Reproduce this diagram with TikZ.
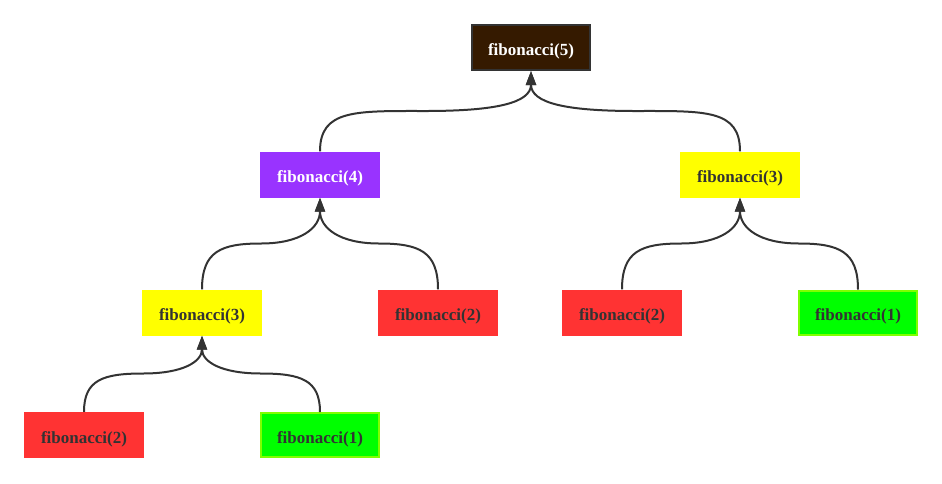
\documentclass[tikz,border=0pt]{standalone}
\usepackage{fontspec}
\setmainfont{Liberation Serif}
\usetikzlibrary{arrows.meta}
\definecolor{brownfill}{HTML}{351A00}
\definecolor{purplefill}{HTML}{9933FF}
\definecolor{redfill}{HTML}{FF3333}
\definecolor{yellowfill}{HTML}{FFFF00}
\definecolor{greenfill}{HTML}{00FF00}
\definecolor{greenline}{HTML}{7FFF00}
\definecolor{edgecol}{HTML}{333333}
\definecolor{txt}{HTML}{333333}
\tikzset{
  fib/.style={rectangle, minimum width=120pt, minimum height=46pt, inner sep=0pt,
    text height=16pt, text depth=0pt,
    font=\fontsize{17}{20}\selectfont\bfseries, text=txt},
  rootbox/.style={fib, fill=brownfill, draw=edgecol, line width=2pt, minimum width=118pt, minimum height=45pt, text=white},
  purplebox/.style={fib, fill=purplefill, text=white},
  redbox/.style={fib, fill=redfill},
  yellowbox/.style={fib, fill=yellowfill},
  greenbox/.style={fib, fill=greenfill, draw=greenline, line width=2pt, minimum width=118pt, minimum height=44pt},
  edge/.style={draw=edgecol, line width=2pt, -{Triangle[length=14pt,width=10pt]}},
}
\begin{document}
\begin{tikzpicture}[x=1pt,y=-1pt]
\useasboundingbox (0,0) rectangle (942,483);
\node[rootbox]   (f5)  at (531,47.5)  {fibonacci(5)};
\node[purplebox] (f4)  at (320,174.5) {fibonacci(4)};
\node[yellowbox] (f3r) at (740,174.5) {fibonacci(3)};
\node[yellowbox] (f3l) at (202,312.5) {fibonacci(3)};
\node[redbox]    (f2m) at (438,312.5) {fibonacci(2)};
\node[redbox]    (f2r) at (622,312.5) {fibonacci(2)};
\node[greenbox]  (f1r) at (858,312.5) {fibonacci(1)};
\node[redbox]    (f2b) at (84,435)    {fibonacci(2)};
\node[greenbox]  (f1b) at (320,435)   {fibonacci(1)};
\coordinate (m1) at (425.5,111);
\coordinate (m2) at (635.5,111);
\coordinate (m3) at (261,243.5);
\coordinate (m4) at (379,243.5);
\coordinate (m5) at (681,243.5);
\coordinate (m6) at (799,243.5);
\coordinate (m7) at (143,373.5);
\coordinate (m8) at (261,373.5);
\draw[edge] (f4.north) .. controls +(0,-42) and +(-70,0) .. (m1) .. controls +(70,0) and +(0,32) .. (f5.south);
\draw[edge] (f3r.north) .. controls +(0,-42) and +(70,0) .. (m2) .. controls +(-70,0) and +(0,32) .. (f5.south);
\draw[edge] (f3l.north) .. controls +(0,-38) and +(-40,0) .. (m3) .. controls +(40,0) and +(0,30) .. (f4.south);
\draw[edge] (f2m.north) .. controls +(0,-38) and +(40,0) .. (m4) .. controls +(-40,0) and +(0,30) .. (f4.south);
\draw[edge] (f2r.north) .. controls +(0,-38) and +(-40,0) .. (m5) .. controls +(40,0) and +(0,30) .. (f3r.south);
\draw[edge] (f1r.north) .. controls +(0,-38) and +(40,0) .. (m6) .. controls +(-40,0) and +(0,30) .. (f3r.south);
\draw[edge] (f2b.north) .. controls +(0,-32) and +(-40,0) .. (m7) .. controls +(40,0) and +(0,26) .. (f3l.south);
\draw[edge] (f1b.north) .. controls +(0,-32) and +(40,0) .. (m8) .. controls +(-40,0) and +(0,26) .. (f3l.south);
\end{tikzpicture}
\end{document}
